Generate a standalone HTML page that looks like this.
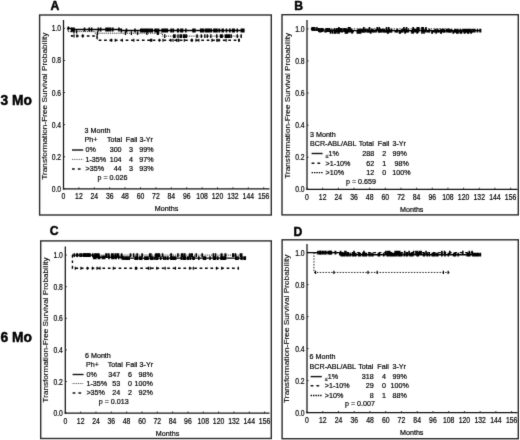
<!DOCTYPE html>
<html><head><meta charset="utf-8"><style>
html,body{margin:0;padding:0;background:#fff;width:520px;height:440px;overflow:hidden}
svg{display:block}
text{font-family:"Liberation Sans", sans-serif;fill:#000;stroke:#000;stroke-width:0.2px}
text.tt{stroke-width:0.12px}
text.bd{stroke-width:0.45px}
</style></head><body>
<svg width="520" height="440" viewBox="0 0 520 440"><defs><filter id="bl" color-interpolation-filters="sRGB" x="0" y="0" width="520" height="440" filterUnits="userSpaceOnUse"><feConvolveMatrix order="3" kernelMatrix="0.0100 0.0800 0.0100 0.0800 0.6400 0.0800 0.0100 0.0800 0.0100" edgeMode="duplicate" preserveAlpha="true"/></filter></defs><g filter="url(#bl)"><rect width="520" height="440" fill="#fff"/>
<text x="0.6" y="104.6" font-size="13.8" font-weight="bold" class="bd">3 Mo</text>
<text x="0.6" y="341.6" font-size="13.8" font-weight="bold" class="bd">6 Mo</text>
<rect x="39.6" y="15.0" width="231.70" height="200.00" fill="none" stroke="#2a2a2a" stroke-width="1.4"/>
<text x="50.60" y="10.20" font-size="12.2" text-anchor="start" font-weight="bold" class="bd">A</text>
<line x1="63.50" y1="20.00" x2="63.50" y2="189.40" stroke="#111" stroke-width="1.25" />
<line x1="62.90" y1="188.80" x2="269.50" y2="188.80" stroke="#111" stroke-width="1.25" />
<text transform="translate(61.10,191.80) scale(0.83,1)" font-size="8.2" text-anchor="end" >0.0</text>
<line x1="63.50" y1="188.80" x2="65.10" y2="188.80" stroke="#222" stroke-width="0.9" />
<text transform="translate(61.10,159.72) scale(0.83,1)" font-size="8.2" text-anchor="end" >0.2</text>
<line x1="63.50" y1="156.72" x2="65.10" y2="156.72" stroke="#222" stroke-width="0.9" />
<text transform="translate(61.10,127.64) scale(0.83,1)" font-size="8.2" text-anchor="end" >0.4</text>
<line x1="63.50" y1="124.64" x2="65.10" y2="124.64" stroke="#222" stroke-width="0.9" />
<text transform="translate(61.10,95.56) scale(0.83,1)" font-size="8.2" text-anchor="end" >0.6</text>
<line x1="63.50" y1="92.56" x2="65.10" y2="92.56" stroke="#222" stroke-width="0.9" />
<text transform="translate(61.10,63.48) scale(0.83,1)" font-size="8.2" text-anchor="end" >0.8</text>
<line x1="63.50" y1="60.48" x2="65.10" y2="60.48" stroke="#222" stroke-width="0.9" />
<text transform="translate(61.10,31.40) scale(0.83,1)" font-size="8.2" text-anchor="end" >1.0</text>
<line x1="63.50" y1="28.40" x2="65.10" y2="28.40" stroke="#222" stroke-width="0.9" />
<text transform="translate(63.50,199.30) scale(0.84,1)" font-size="8.2" text-anchor="middle" >0</text>
<line x1="63.50" y1="188.80" x2="63.50" y2="187.20" stroke="#222" stroke-width="0.9" />
<text transform="translate(78.90,199.30) scale(0.84,1)" font-size="8.2" text-anchor="middle" >12</text>
<line x1="78.90" y1="188.80" x2="78.90" y2="187.20" stroke="#222" stroke-width="0.9" />
<text transform="translate(94.30,199.30) scale(0.84,1)" font-size="8.2" text-anchor="middle" >24</text>
<line x1="94.30" y1="188.80" x2="94.30" y2="187.20" stroke="#222" stroke-width="0.9" />
<text transform="translate(109.70,199.30) scale(0.84,1)" font-size="8.2" text-anchor="middle" >36</text>
<line x1="109.70" y1="188.80" x2="109.70" y2="187.20" stroke="#222" stroke-width="0.9" />
<text transform="translate(125.10,199.30) scale(0.84,1)" font-size="8.2" text-anchor="middle" >48</text>
<line x1="125.10" y1="188.80" x2="125.10" y2="187.20" stroke="#222" stroke-width="0.9" />
<text transform="translate(140.50,199.30) scale(0.84,1)" font-size="8.2" text-anchor="middle" >60</text>
<line x1="140.50" y1="188.80" x2="140.50" y2="187.20" stroke="#222" stroke-width="0.9" />
<text transform="translate(155.90,199.30) scale(0.84,1)" font-size="8.2" text-anchor="middle" >72</text>
<line x1="155.90" y1="188.80" x2="155.90" y2="187.20" stroke="#222" stroke-width="0.9" />
<text transform="translate(171.30,199.30) scale(0.84,1)" font-size="8.2" text-anchor="middle" >84</text>
<line x1="171.30" y1="188.80" x2="171.30" y2="187.20" stroke="#222" stroke-width="0.9" />
<text transform="translate(186.70,199.30) scale(0.84,1)" font-size="8.2" text-anchor="middle" >96</text>
<line x1="186.70" y1="188.80" x2="186.70" y2="187.20" stroke="#222" stroke-width="0.9" />
<text transform="translate(202.10,199.30) scale(0.84,1)" font-size="8.2" text-anchor="middle" >108</text>
<line x1="202.10" y1="188.80" x2="202.10" y2="187.20" stroke="#222" stroke-width="0.9" />
<text transform="translate(217.50,199.30) scale(0.84,1)" font-size="8.2" text-anchor="middle" >120</text>
<line x1="217.50" y1="188.80" x2="217.50" y2="187.20" stroke="#222" stroke-width="0.9" />
<text transform="translate(232.90,199.30) scale(0.84,1)" font-size="8.2" text-anchor="middle" >132</text>
<line x1="232.90" y1="188.80" x2="232.90" y2="187.20" stroke="#222" stroke-width="0.9" />
<text transform="translate(248.30,199.30) scale(0.84,1)" font-size="8.2" text-anchor="middle" >144</text>
<line x1="248.30" y1="188.80" x2="248.30" y2="187.20" stroke="#222" stroke-width="0.9" />
<text transform="translate(263.70,199.30) scale(0.84,1)" font-size="8.2" text-anchor="middle" >156</text>
<line x1="263.70" y1="188.80" x2="263.70" y2="187.20" stroke="#222" stroke-width="0.9" />
<text transform="translate(154.80,211.45) scale(0.93,1)" font-size="7.7" text-anchor="start" >Months</text>
<text font-size="7.5" class="tt" transform="translate(46.60,179.70) rotate(-90) scale(1.1,1)">Transformation-Free Survival Probability</text>
<rect x="282.0" y="14.7" width="236.30" height="200.20" fill="none" stroke="#2a2a2a" stroke-width="1.4"/>
<text x="294.20" y="10.00" font-size="12.2" text-anchor="start" font-weight="bold" class="bd">B</text>
<line x1="307.00" y1="20.00" x2="307.00" y2="189.90" stroke="#111" stroke-width="1.25" />
<line x1="306.40" y1="189.30" x2="517.50" y2="189.30" stroke="#111" stroke-width="1.25" />
<text transform="translate(304.60,192.30) scale(0.83,1)" font-size="8.2" text-anchor="end" >0.0</text>
<line x1="307.00" y1="189.30" x2="308.60" y2="189.30" stroke="#222" stroke-width="0.9" />
<text transform="translate(304.60,160.22) scale(0.83,1)" font-size="8.2" text-anchor="end" >0.2</text>
<line x1="307.00" y1="157.22" x2="308.60" y2="157.22" stroke="#222" stroke-width="0.9" />
<text transform="translate(304.60,128.14) scale(0.83,1)" font-size="8.2" text-anchor="end" >0.4</text>
<line x1="307.00" y1="125.14" x2="308.60" y2="125.14" stroke="#222" stroke-width="0.9" />
<text transform="translate(304.60,96.06) scale(0.83,1)" font-size="8.2" text-anchor="end" >0.6</text>
<line x1="307.00" y1="93.06" x2="308.60" y2="93.06" stroke="#222" stroke-width="0.9" />
<text transform="translate(304.60,63.98) scale(0.83,1)" font-size="8.2" text-anchor="end" >0.8</text>
<line x1="307.00" y1="60.98" x2="308.60" y2="60.98" stroke="#222" stroke-width="0.9" />
<text transform="translate(304.60,31.90) scale(0.83,1)" font-size="8.2" text-anchor="end" >1.0</text>
<line x1="307.00" y1="28.90" x2="308.60" y2="28.90" stroke="#222" stroke-width="0.9" />
<text transform="translate(307.00,199.80) scale(0.84,1)" font-size="8.2" text-anchor="middle" >0</text>
<line x1="307.00" y1="189.30" x2="307.00" y2="187.70" stroke="#222" stroke-width="0.9" />
<text transform="translate(322.66,199.80) scale(0.84,1)" font-size="8.2" text-anchor="middle" >12</text>
<line x1="322.66" y1="189.30" x2="322.66" y2="187.70" stroke="#222" stroke-width="0.9" />
<text transform="translate(338.32,199.80) scale(0.84,1)" font-size="8.2" text-anchor="middle" >24</text>
<line x1="338.32" y1="189.30" x2="338.32" y2="187.70" stroke="#222" stroke-width="0.9" />
<text transform="translate(353.98,199.80) scale(0.84,1)" font-size="8.2" text-anchor="middle" >36</text>
<line x1="353.98" y1="189.30" x2="353.98" y2="187.70" stroke="#222" stroke-width="0.9" />
<text transform="translate(369.64,199.80) scale(0.84,1)" font-size="8.2" text-anchor="middle" >48</text>
<line x1="369.64" y1="189.30" x2="369.64" y2="187.70" stroke="#222" stroke-width="0.9" />
<text transform="translate(385.30,199.80) scale(0.84,1)" font-size="8.2" text-anchor="middle" >60</text>
<line x1="385.30" y1="189.30" x2="385.30" y2="187.70" stroke="#222" stroke-width="0.9" />
<text transform="translate(400.96,199.80) scale(0.84,1)" font-size="8.2" text-anchor="middle" >72</text>
<line x1="400.96" y1="189.30" x2="400.96" y2="187.70" stroke="#222" stroke-width="0.9" />
<text transform="translate(416.62,199.80) scale(0.84,1)" font-size="8.2" text-anchor="middle" >84</text>
<line x1="416.62" y1="189.30" x2="416.62" y2="187.70" stroke="#222" stroke-width="0.9" />
<text transform="translate(432.28,199.80) scale(0.84,1)" font-size="8.2" text-anchor="middle" >96</text>
<line x1="432.28" y1="189.30" x2="432.28" y2="187.70" stroke="#222" stroke-width="0.9" />
<text transform="translate(447.94,199.80) scale(0.84,1)" font-size="8.2" text-anchor="middle" >108</text>
<line x1="447.94" y1="189.30" x2="447.94" y2="187.70" stroke="#222" stroke-width="0.9" />
<text transform="translate(463.60,199.80) scale(0.84,1)" font-size="8.2" text-anchor="middle" >120</text>
<line x1="463.60" y1="189.30" x2="463.60" y2="187.70" stroke="#222" stroke-width="0.9" />
<text transform="translate(479.26,199.80) scale(0.84,1)" font-size="8.2" text-anchor="middle" >132</text>
<line x1="479.26" y1="189.30" x2="479.26" y2="187.70" stroke="#222" stroke-width="0.9" />
<text transform="translate(494.92,199.80) scale(0.84,1)" font-size="8.2" text-anchor="middle" >144</text>
<line x1="494.92" y1="189.30" x2="494.92" y2="187.70" stroke="#222" stroke-width="0.9" />
<text transform="translate(510.58,199.80) scale(0.84,1)" font-size="8.2" text-anchor="middle" >156</text>
<line x1="510.58" y1="189.30" x2="510.58" y2="187.70" stroke="#222" stroke-width="0.9" />
<text transform="translate(400.00,211.95) scale(0.93,1)" font-size="7.7" text-anchor="start" >Months</text>
<text font-size="7.5" class="tt" transform="translate(289.60,178.60) rotate(-90) scale(1.09,1)">Transformation-Free Survival Probability</text>
<rect x="40.7" y="240.9" width="230.60" height="197.60" fill="none" stroke="#2a2a2a" stroke-width="1.4"/>
<text x="49.80" y="235.30" font-size="12.2" text-anchor="start" font-weight="bold" class="bd">C</text>
<line x1="65.30" y1="246.50" x2="65.30" y2="413.70" stroke="#111" stroke-width="1.25" />
<line x1="64.70" y1="413.10" x2="269.50" y2="413.10" stroke="#111" stroke-width="1.25" />
<text transform="translate(62.90,416.10) scale(0.83,1)" font-size="8.2" text-anchor="end" >0.0</text>
<line x1="65.30" y1="413.10" x2="66.90" y2="413.10" stroke="#222" stroke-width="0.9" />
<text transform="translate(62.90,384.50) scale(0.83,1)" font-size="8.2" text-anchor="end" >0.2</text>
<line x1="65.30" y1="381.50" x2="66.90" y2="381.50" stroke="#222" stroke-width="0.9" />
<text transform="translate(62.90,352.90) scale(0.83,1)" font-size="8.2" text-anchor="end" >0.4</text>
<line x1="65.30" y1="349.90" x2="66.90" y2="349.90" stroke="#222" stroke-width="0.9" />
<text transform="translate(62.90,321.30) scale(0.83,1)" font-size="8.2" text-anchor="end" >0.6</text>
<line x1="65.30" y1="318.30" x2="66.90" y2="318.30" stroke="#222" stroke-width="0.9" />
<text transform="translate(62.90,289.70) scale(0.83,1)" font-size="8.2" text-anchor="end" >0.8</text>
<line x1="65.30" y1="286.70" x2="66.90" y2="286.70" stroke="#222" stroke-width="0.9" />
<text transform="translate(62.90,258.10) scale(0.83,1)" font-size="8.2" text-anchor="end" >1.0</text>
<line x1="65.30" y1="255.10" x2="66.90" y2="255.10" stroke="#222" stroke-width="0.9" />
<text transform="translate(65.30,423.60) scale(0.84,1)" font-size="8.2" text-anchor="middle" >0</text>
<line x1="65.30" y1="413.10" x2="65.30" y2="411.50" stroke="#222" stroke-width="0.9" />
<text transform="translate(80.63,423.60) scale(0.84,1)" font-size="8.2" text-anchor="middle" >12</text>
<line x1="80.63" y1="413.10" x2="80.63" y2="411.50" stroke="#222" stroke-width="0.9" />
<text transform="translate(95.96,423.60) scale(0.84,1)" font-size="8.2" text-anchor="middle" >24</text>
<line x1="95.96" y1="413.10" x2="95.96" y2="411.50" stroke="#222" stroke-width="0.9" />
<text transform="translate(111.29,423.60) scale(0.84,1)" font-size="8.2" text-anchor="middle" >36</text>
<line x1="111.29" y1="413.10" x2="111.29" y2="411.50" stroke="#222" stroke-width="0.9" />
<text transform="translate(126.62,423.60) scale(0.84,1)" font-size="8.2" text-anchor="middle" >48</text>
<line x1="126.62" y1="413.10" x2="126.62" y2="411.50" stroke="#222" stroke-width="0.9" />
<text transform="translate(141.95,423.60) scale(0.84,1)" font-size="8.2" text-anchor="middle" >60</text>
<line x1="141.95" y1="413.10" x2="141.95" y2="411.50" stroke="#222" stroke-width="0.9" />
<text transform="translate(157.28,423.60) scale(0.84,1)" font-size="8.2" text-anchor="middle" >72</text>
<line x1="157.28" y1="413.10" x2="157.28" y2="411.50" stroke="#222" stroke-width="0.9" />
<text transform="translate(172.61,423.60) scale(0.84,1)" font-size="8.2" text-anchor="middle" >84</text>
<line x1="172.61" y1="413.10" x2="172.61" y2="411.50" stroke="#222" stroke-width="0.9" />
<text transform="translate(187.94,423.60) scale(0.84,1)" font-size="8.2" text-anchor="middle" >96</text>
<line x1="187.94" y1="413.10" x2="187.94" y2="411.50" stroke="#222" stroke-width="0.9" />
<text transform="translate(203.27,423.60) scale(0.84,1)" font-size="8.2" text-anchor="middle" >108</text>
<line x1="203.27" y1="413.10" x2="203.27" y2="411.50" stroke="#222" stroke-width="0.9" />
<text transform="translate(218.60,423.60) scale(0.84,1)" font-size="8.2" text-anchor="middle" >120</text>
<line x1="218.60" y1="413.10" x2="218.60" y2="411.50" stroke="#222" stroke-width="0.9" />
<text transform="translate(233.93,423.60) scale(0.84,1)" font-size="8.2" text-anchor="middle" >132</text>
<line x1="233.93" y1="413.10" x2="233.93" y2="411.50" stroke="#222" stroke-width="0.9" />
<text transform="translate(249.26,423.60) scale(0.84,1)" font-size="8.2" text-anchor="middle" >144</text>
<line x1="249.26" y1="413.10" x2="249.26" y2="411.50" stroke="#222" stroke-width="0.9" />
<text transform="translate(264.59,423.60) scale(0.84,1)" font-size="8.2" text-anchor="middle" >156</text>
<line x1="264.59" y1="413.10" x2="264.59" y2="411.50" stroke="#222" stroke-width="0.9" />
<text transform="translate(155.80,435.75) scale(0.93,1)" font-size="7.7" text-anchor="start" >Months</text>
<text font-size="7.5" class="tt" transform="translate(48.40,402.40) rotate(-90) scale(1.085,1)">Transformation-Free Survival Probability</text>
<rect x="282.1" y="239.8" width="236.20" height="198.90" fill="none" stroke="#2a2a2a" stroke-width="1.4"/>
<text x="293.60" y="235.60" font-size="12.2" text-anchor="start" font-weight="bold" class="bd">D</text>
<line x1="307.00" y1="244.00" x2="307.00" y2="413.20" stroke="#111" stroke-width="1.25" />
<line x1="306.40" y1="412.60" x2="517.50" y2="412.60" stroke="#111" stroke-width="1.25" />
<text transform="translate(304.60,415.60) scale(0.83,1)" font-size="8.2" text-anchor="end" >0.0</text>
<line x1="307.00" y1="412.60" x2="308.60" y2="412.60" stroke="#222" stroke-width="0.9" />
<text transform="translate(304.60,383.60) scale(0.83,1)" font-size="8.2" text-anchor="end" >0.2</text>
<line x1="307.00" y1="380.60" x2="308.60" y2="380.60" stroke="#222" stroke-width="0.9" />
<text transform="translate(304.60,351.60) scale(0.83,1)" font-size="8.2" text-anchor="end" >0.4</text>
<line x1="307.00" y1="348.60" x2="308.60" y2="348.60" stroke="#222" stroke-width="0.9" />
<text transform="translate(304.60,319.60) scale(0.83,1)" font-size="8.2" text-anchor="end" >0.6</text>
<line x1="307.00" y1="316.60" x2="308.60" y2="316.60" stroke="#222" stroke-width="0.9" />
<text transform="translate(304.60,287.60) scale(0.83,1)" font-size="8.2" text-anchor="end" >0.8</text>
<line x1="307.00" y1="284.60" x2="308.60" y2="284.60" stroke="#222" stroke-width="0.9" />
<text transform="translate(304.60,255.60) scale(0.83,1)" font-size="8.2" text-anchor="end" >1.0</text>
<line x1="307.00" y1="252.60" x2="308.60" y2="252.60" stroke="#222" stroke-width="0.9" />
<text transform="translate(307.00,423.10) scale(0.84,1)" font-size="8.2" text-anchor="middle" >0</text>
<line x1="307.00" y1="412.60" x2="307.00" y2="411.00" stroke="#222" stroke-width="0.9" />
<text transform="translate(322.74,423.10) scale(0.84,1)" font-size="8.2" text-anchor="middle" >12</text>
<line x1="322.74" y1="412.60" x2="322.74" y2="411.00" stroke="#222" stroke-width="0.9" />
<text transform="translate(338.48,423.10) scale(0.84,1)" font-size="8.2" text-anchor="middle" >24</text>
<line x1="338.48" y1="412.60" x2="338.48" y2="411.00" stroke="#222" stroke-width="0.9" />
<text transform="translate(354.22,423.10) scale(0.84,1)" font-size="8.2" text-anchor="middle" >36</text>
<line x1="354.22" y1="412.60" x2="354.22" y2="411.00" stroke="#222" stroke-width="0.9" />
<text transform="translate(369.96,423.10) scale(0.84,1)" font-size="8.2" text-anchor="middle" >48</text>
<line x1="369.96" y1="412.60" x2="369.96" y2="411.00" stroke="#222" stroke-width="0.9" />
<text transform="translate(385.70,423.10) scale(0.84,1)" font-size="8.2" text-anchor="middle" >60</text>
<line x1="385.70" y1="412.60" x2="385.70" y2="411.00" stroke="#222" stroke-width="0.9" />
<text transform="translate(401.44,423.10) scale(0.84,1)" font-size="8.2" text-anchor="middle" >72</text>
<line x1="401.44" y1="412.60" x2="401.44" y2="411.00" stroke="#222" stroke-width="0.9" />
<text transform="translate(417.18,423.10) scale(0.84,1)" font-size="8.2" text-anchor="middle" >84</text>
<line x1="417.18" y1="412.60" x2="417.18" y2="411.00" stroke="#222" stroke-width="0.9" />
<text transform="translate(432.92,423.10) scale(0.84,1)" font-size="8.2" text-anchor="middle" >96</text>
<line x1="432.92" y1="412.60" x2="432.92" y2="411.00" stroke="#222" stroke-width="0.9" />
<text transform="translate(448.66,423.10) scale(0.84,1)" font-size="8.2" text-anchor="middle" >108</text>
<line x1="448.66" y1="412.60" x2="448.66" y2="411.00" stroke="#222" stroke-width="0.9" />
<text transform="translate(464.40,423.10) scale(0.84,1)" font-size="8.2" text-anchor="middle" >120</text>
<line x1="464.40" y1="412.60" x2="464.40" y2="411.00" stroke="#222" stroke-width="0.9" />
<text transform="translate(480.14,423.10) scale(0.84,1)" font-size="8.2" text-anchor="middle" >132</text>
<line x1="480.14" y1="412.60" x2="480.14" y2="411.00" stroke="#222" stroke-width="0.9" />
<text transform="translate(495.88,423.10) scale(0.84,1)" font-size="8.2" text-anchor="middle" >144</text>
<line x1="495.88" y1="412.60" x2="495.88" y2="411.00" stroke="#222" stroke-width="0.9" />
<text transform="translate(511.62,423.10) scale(0.84,1)" font-size="8.2" text-anchor="middle" >156</text>
<line x1="511.62" y1="412.60" x2="511.62" y2="411.00" stroke="#222" stroke-width="0.9" />
<text transform="translate(400.00,435.25) scale(0.93,1)" font-size="7.7" text-anchor="start" >Months</text>
<text font-size="7.5" class="tt" transform="translate(289.10,402.90) rotate(-90) scale(1.11,1)">Transformation-Free Survival Probability</text>
<text transform="translate(84.60,133.15) scale(0.93,1)" font-size="7.7" text-anchor="start" >3 Month</text>
<text transform="translate(84.60,142.45) scale(0.93,1)" font-size="7.7" text-anchor="start" >Ph+</text>
<text transform="translate(107.00,142.45) scale(0.93,1)" font-size="7.7" text-anchor="start" >Total</text>
<text transform="translate(125.80,142.45) scale(0.93,1)" font-size="7.7" text-anchor="start" >Fail</text>
<text transform="translate(139.40,142.45) scale(0.93,1)" font-size="7.7" text-anchor="start" >3-Yr</text>
<line x1="72.00" y1="150.00" x2="83.20" y2="150.00" stroke="#111" stroke-width="1.4" />
<text transform="translate(85.50,151.95) scale(0.93,1)" font-size="7.7" text-anchor="start" >0%</text>
<text transform="translate(121.60,151.95) scale(0.93,1)" font-size="7.7" text-anchor="end" >300</text>
<text transform="translate(132.90,151.95) scale(0.93,1)" font-size="7.7" text-anchor="end" >3</text>
<text transform="translate(139.20,151.95) scale(0.93,1)" font-size="7.7" text-anchor="start" >99%</text>
<line x1="72.00" y1="159.40" x2="83.20" y2="159.40" stroke="#444" stroke-width="0.9" stroke-dasharray="1.0 0.8"/>
<text transform="translate(85.50,161.65) scale(0.93,1)" font-size="7.7" text-anchor="start" >1-35%</text>
<text transform="translate(121.60,161.65) scale(0.93,1)" font-size="7.7" text-anchor="end" >104</text>
<text transform="translate(132.90,161.65) scale(0.93,1)" font-size="7.7" text-anchor="end" >4</text>
<text transform="translate(139.20,161.65) scale(0.93,1)" font-size="7.7" text-anchor="start" >97%</text>
<line x1="72.00" y1="169.10" x2="83.20" y2="169.10" stroke="#111" stroke-width="1.5" stroke-dasharray="2.8 3"/>
<text transform="translate(85.50,171.25) scale(0.93,1)" font-size="7.7" text-anchor="start" >&gt;35%</text>
<text transform="translate(121.60,171.25) scale(0.93,1)" font-size="7.7" text-anchor="end" >44</text>
<text transform="translate(132.90,171.25) scale(0.93,1)" font-size="7.7" text-anchor="end" >3</text>
<text transform="translate(139.20,171.25) scale(0.93,1)" font-size="7.7" text-anchor="start" >93%</text>
<text transform="translate(97.50,179.65) scale(0.93,1)" font-size="7.7" text-anchor="start" >p = 0.026</text>
<text transform="translate(85.00,357.65) scale(0.93,1)" font-size="7.7" text-anchor="start" >6 Month</text>
<text transform="translate(86.00,367.25) scale(0.93,1)" font-size="7.7" text-anchor="start" >Ph+</text>
<text transform="translate(107.80,367.25) scale(0.93,1)" font-size="7.7" text-anchor="start" >Total</text>
<text transform="translate(125.80,367.25) scale(0.93,1)" font-size="7.7" text-anchor="start" >Fail</text>
<text transform="translate(139.60,367.25) scale(0.93,1)" font-size="7.7" text-anchor="start" >3-Yr</text>
<line x1="72.60" y1="374.50" x2="83.60" y2="374.50" stroke="#111" stroke-width="1.4" />
<text transform="translate(86.40,376.75) scale(0.93,1)" font-size="7.7" text-anchor="start" >0%</text>
<text transform="translate(120.20,376.75) scale(0.93,1)" font-size="7.7" text-anchor="end" >347</text>
<text transform="translate(131.90,376.75) scale(0.93,1)" font-size="7.7" text-anchor="end" >6</text>
<text transform="translate(152.90,376.75) scale(0.93,1)" font-size="7.7" text-anchor="end" >98%</text>
<line x1="72.60" y1="383.50" x2="83.60" y2="383.50" stroke="#444" stroke-width="0.9" stroke-dasharray="1.0 0.8"/>
<text transform="translate(86.40,386.25) scale(0.93,1)" font-size="7.7" text-anchor="start" >1-35%</text>
<text transform="translate(120.20,386.25) scale(0.93,1)" font-size="7.7" text-anchor="end" >53</text>
<text transform="translate(131.90,386.25) scale(0.93,1)" font-size="7.7" text-anchor="end" >0</text>
<text transform="translate(152.90,386.25) scale(0.93,1)" font-size="7.7" text-anchor="end" >100%</text>
<line x1="72.60" y1="393.10" x2="83.60" y2="393.10" stroke="#111" stroke-width="1.5" stroke-dasharray="2.8 3"/>
<text transform="translate(86.40,395.25) scale(0.93,1)" font-size="7.7" text-anchor="start" >&gt;35%</text>
<text transform="translate(120.20,395.25) scale(0.93,1)" font-size="7.7" text-anchor="end" >24</text>
<text transform="translate(131.90,395.25) scale(0.93,1)" font-size="7.7" text-anchor="end" >2</text>
<text transform="translate(152.90,395.25) scale(0.93,1)" font-size="7.7" text-anchor="end" >92%</text>
<text transform="translate(98.70,403.65) scale(0.93,1)" font-size="7.7" text-anchor="start" >p = 0.013</text>
<text transform="translate(310.00,137.05) scale(0.93,1)" font-size="7.7" text-anchor="start" >3 Month</text>
<text transform="translate(310.00,146.15) scale(0.93,1)" font-size="7.7" text-anchor="start" >BCR-ABL/ABL</text>
<text transform="translate(358.70,146.15) scale(0.93,1)" font-size="7.7" text-anchor="start" >Total</text>
<text transform="translate(377.80,146.15) scale(0.93,1)" font-size="7.7" text-anchor="start" >Fail</text>
<text transform="translate(392.50,146.15) scale(0.93,1)" font-size="7.7" text-anchor="start" >3-Yr</text>
<line x1="311.60" y1="153.50" x2="322.60" y2="153.50" stroke="#111" stroke-width="1.4" />
<text transform="translate(325.60,156.05) scale(0.93,1)" font-size="7.7" text-anchor="start" ><tspan font-size="5.6" dy="1.7">&#8804;</tspan><tspan dy="-1.7">1%</tspan></text>
<text transform="translate(374.20,156.05) scale(0.93,1)" font-size="7.7" text-anchor="end" >288</text>
<text transform="translate(386.20,156.05) scale(0.93,1)" font-size="7.7" text-anchor="end" >2</text>
<text transform="translate(392.60,156.05) scale(0.93,1)" font-size="7.7" text-anchor="start" >99%</text>
<line x1="311.60" y1="163.20" x2="322.60" y2="163.20" stroke="#111" stroke-width="1.5" stroke-dasharray="2.8 3"/>
<text transform="translate(325.60,165.75) scale(0.93,1)" font-size="7.7" text-anchor="start" >&gt;1-10%</text>
<text transform="translate(374.20,165.75) scale(0.93,1)" font-size="7.7" text-anchor="end" >62</text>
<text transform="translate(386.20,165.75) scale(0.93,1)" font-size="7.7" text-anchor="end" >1</text>
<text transform="translate(394.60,165.75) scale(0.93,1)" font-size="7.7" text-anchor="start" >98%</text>
<line x1="311.60" y1="172.60" x2="322.60" y2="172.60" stroke="#000" stroke-width="1.3" stroke-dasharray="1.4 1.0"/>
<text transform="translate(325.60,175.15) scale(0.93,1)" font-size="7.7" text-anchor="start" >&gt;10%</text>
<text transform="translate(374.20,175.15) scale(0.93,1)" font-size="7.7" text-anchor="end" >12</text>
<text transform="translate(386.20,175.15) scale(0.93,1)" font-size="7.7" text-anchor="end" >0</text>
<text transform="translate(392.20,175.15) scale(0.93,1)" font-size="7.7" text-anchor="start" >100%</text>
<text transform="translate(346.00,183.65) scale(0.93,1)" font-size="7.7" text-anchor="start" >p = 0.659</text>
<text transform="translate(309.60,359.25) scale(0.93,1)" font-size="7.7" text-anchor="start" >6 Month</text>
<text transform="translate(309.60,369.35) scale(0.93,1)" font-size="7.7" text-anchor="start" >BCR-ABL/ABL</text>
<text transform="translate(358.30,369.35) scale(0.93,1)" font-size="7.7" text-anchor="start" >Total</text>
<text transform="translate(377.30,369.35) scale(0.93,1)" font-size="7.7" text-anchor="start" >Fail</text>
<text transform="translate(392.50,369.35) scale(0.93,1)" font-size="7.7" text-anchor="start" >3-Yr</text>
<line x1="310.60" y1="376.60" x2="321.80" y2="376.60" stroke="#111" stroke-width="1.4" />
<text transform="translate(324.80,378.85) scale(0.93,1)" font-size="7.7" text-anchor="start" ><tspan font-size="5.6" dy="1.7">&#8804;</tspan><tspan dy="-1.7">1%</tspan></text>
<text transform="translate(373.80,378.85) scale(0.93,1)" font-size="7.7" text-anchor="end" >318</text>
<text transform="translate(386.00,378.85) scale(0.93,1)" font-size="7.7" text-anchor="end" >4</text>
<text transform="translate(392.60,378.85) scale(0.93,1)" font-size="7.7" text-anchor="start" >99%</text>
<line x1="310.60" y1="385.80" x2="321.80" y2="385.80" stroke="#111" stroke-width="1.5" stroke-dasharray="2.8 3"/>
<text transform="translate(324.80,388.45) scale(0.93,1)" font-size="7.7" text-anchor="start" >&gt;1-10%</text>
<text transform="translate(373.80,388.45) scale(0.93,1)" font-size="7.7" text-anchor="end" >29</text>
<text transform="translate(386.00,388.45) scale(0.93,1)" font-size="7.7" text-anchor="end" >0</text>
<text transform="translate(390.50,388.45) scale(0.93,1)" font-size="7.7" text-anchor="start" >100%</text>
<line x1="310.60" y1="395.50" x2="321.80" y2="395.50" stroke="#000" stroke-width="1.3" stroke-dasharray="1.4 1.0"/>
<text transform="translate(324.80,397.95) scale(0.93,1)" font-size="7.7" text-anchor="start" >&gt;10%</text>
<text transform="translate(373.80,397.95) scale(0.93,1)" font-size="7.7" text-anchor="end" >8</text>
<text transform="translate(386.00,397.95) scale(0.93,1)" font-size="7.7" text-anchor="end" >1</text>
<text transform="translate(392.60,397.95) scale(0.93,1)" font-size="7.7" text-anchor="start" >88%</text>
<text transform="translate(345.00,405.65) scale(0.93,1)" font-size="7.7" text-anchor="start" >p = 0.007</text>
<path d="M67.35,28.40H71.20V29.52H121.25V30.49H243.81" fill="none" stroke="#000" stroke-width="1.4"/>
<path d="M68.36,26.50v3.80M71.77,27.62v3.80M72.47,27.62v3.80M72.98,27.62v3.80M73.10,27.62v3.80M73.37,27.62v3.80M74.06,27.62v3.80M84.49,27.62v3.80M89.25,27.62v3.80M91.62,27.62v3.80M98.41,27.62v3.80M100.68,27.62v3.80M106.07,27.62v3.80M106.46,27.62v3.80M106.97,27.62v3.80M108.21,27.62v3.80M108.58,27.62v3.80M108.97,27.62v3.80M110.67,27.62v3.80M112.84,27.62v3.80M118.94,27.62v3.80M121.33,28.59v3.80M126.49,28.59v3.80M135.01,28.59v3.80M140.83,28.59v3.80M142.21,28.59v3.80M142.21,28.59v3.80M144.08,28.59v3.80M144.98,28.59v3.80M146.30,28.59v3.80M147.02,28.59v3.80M148.80,28.59v3.80M155.10,28.59v3.80M155.16,28.59v3.80M156.83,28.59v3.80M163.18,28.59v3.80M164.48,28.59v3.80M165.83,28.59v3.80M171.30,28.59v3.80M171.55,28.59v3.80M180.92,28.59v3.80M182.55,28.59v3.80M185.84,28.59v3.80M193.03,28.59v3.80M194.84,28.59v3.80M194.85,28.59v3.80M202.01,28.59v3.80M202.28,28.59v3.80M206.66,28.59v3.80M208.19,28.59v3.80M213.93,28.59v3.80M214.93,28.59v3.80M215.25,28.59v3.80M216.77,28.59v3.80M216.98,28.59v3.80M219.18,28.59v3.80M223.15,28.59v3.80M226.48,28.59v3.80M232.63,28.59v3.80M233.11,28.59v3.80M234.19,28.59v3.80M242.50,28.59v3.80M143.21,28.59v3.80M145.81,28.59v3.80M147.07,28.59v3.80M147.58,28.59v3.80M150.51,28.59v3.80M152.18,28.59v3.80M156.51,28.59v3.80M158.58,28.59v3.80M162.15,28.59v3.80M162.66,28.59v3.80M163.83,28.59v3.80M167.33,28.59v3.80M171.07,28.59v3.80M173.37,28.59v3.80M177.61,28.59v3.80M178.38,28.59v3.80M182.21,28.59v3.80M194.58,28.59v3.80M200.74,28.59v3.80M203.39,28.59v3.80M205.59,28.59v3.80M205.63,28.59v3.80M206.33,28.59v3.80M206.94,28.59v3.80M209.16,28.59v3.80M209.45,28.59v3.80M211.17,28.59v3.80M214.63,28.59v3.80M219.40,28.59v3.80M222.33,28.59v3.80M229.83,28.59v3.80M233.00,28.59v3.80M237.26,28.59v3.80M241.39,28.59v3.80M242.76,28.59v3.80M243.81,28.59v3.80" fill="none" stroke="#000" stroke-width="1.6"/>
<path d="M67.35,28.40H67.99V31.61H94.94V33.21H162.44V36.10H241.24" fill="none" stroke="#222" stroke-width="1.0" stroke-dasharray="1.0 0.9"/>
<path d="M73.93,29.71v3.80M76.58,29.71v3.80M97.50,31.31v3.80M125.40,31.31v3.80M125.48,31.31v3.80M131.38,31.31v3.80M137.58,31.31v3.80M146.91,31.31v3.80M157.43,31.31v3.80M158.20,31.31v3.80M164.72,34.20v3.80M173.71,34.20v3.80M174.99,34.20v3.80M175.03,34.20v3.80M178.02,34.20v3.80M180.21,34.20v3.80M181.08,34.20v3.80M181.50,34.20v3.80M183.53,34.20v3.80M183.71,34.20v3.80M185.02,34.20v3.80M186.48,34.20v3.80M196.95,34.20v3.80M197.11,34.20v3.80M201.39,34.20v3.80M204.85,34.20v3.80M207.40,34.20v3.80M210.84,34.20v3.80M216.71,34.20v3.80M216.80,34.20v3.80M220.59,34.20v3.80M221.42,34.20v3.80M222.22,34.20v3.80M225.23,34.20v3.80M226.18,34.20v3.80M226.47,34.20v3.80M227.76,34.20v3.80M228.64,34.20v3.80M229.54,34.20v3.80M229.59,34.20v3.80M231.25,34.20v3.80M237.31,34.20v3.80M241.24,34.20v3.80" fill="none" stroke="#000" stroke-width="1.35"/>
<path d="M67.35,28.40H71.59V35.94H97.12V40.27H239.32" fill="none" stroke="#000" stroke-width="1.4" stroke-dasharray="2.7 2.7"/>
<path d="M74.05,34.34v3.20M77.04,34.34v3.20M82.57,34.34v3.20M82.82,34.34v3.20M97.07,34.34v3.20M111.09,38.67v3.20M111.69,38.67v3.20M115.28,38.67v3.20M122.30,38.67v3.20M133.80,38.67v3.20M150.60,38.67v3.20M151.02,38.67v3.20M151.62,38.67v3.20M159.46,38.67v3.20M162.99,38.67v3.20M170.84,38.67v3.20M172.98,38.67v3.20M176.63,38.67v3.20M178.16,38.67v3.20M178.87,38.67v3.20M184.29,38.67v3.20M191.44,38.67v3.20M192.23,38.67v3.20M195.98,38.67v3.20M198.83,38.67v3.20M211.93,38.67v3.20M212.10,38.67v3.20M216.80,38.67v3.20M217.22,38.67v3.20M219.02,38.67v3.20M226.10,38.67v3.20M238.59,38.67v3.20M239.32,38.67v3.20" fill="none" stroke="#000" stroke-width="1.2"/>
<path d="M310.92,28.90H314.83V30.02H346.15V30.66H480.56" fill="none" stroke="#000" stroke-width="1.4"/>
<path d="M313.16,27.00v3.80M314.64,27.00v3.80M318.80,28.12v3.80M318.87,28.12v3.80M319.14,28.12v3.80M319.40,28.12v3.80M320.91,28.12v3.80M321.60,28.12v3.80M321.98,28.12v3.80M322.81,28.12v3.80M326.22,28.12v3.80M326.67,28.12v3.80M327.98,28.12v3.80M328.63,28.12v3.80M329.00,28.12v3.80M329.51,28.12v3.80M334.63,28.12v3.80M336.86,28.12v3.80M337.76,28.12v3.80M338.83,28.12v3.80M340.07,28.12v3.80M340.22,28.12v3.80M340.75,28.12v3.80M341.57,28.12v3.80M341.61,28.12v3.80M343.92,28.12v3.80M344.26,28.12v3.80M344.62,28.12v3.80M345.82,28.12v3.80M346.70,28.76v3.80M347.80,28.76v3.80M349.07,28.76v3.80M350.25,28.76v3.80M351.46,28.76v3.80M351.69,28.76v3.80M358.26,28.76v3.80M358.33,28.76v3.80M358.96,28.76v3.80M360.41,28.76v3.80M360.63,28.76v3.80M361.15,28.76v3.80M362.31,28.76v3.80M363.13,28.76v3.80M363.93,28.76v3.80M365.76,28.76v3.80M367.52,28.76v3.80M367.56,28.76v3.80M369.51,28.76v3.80M371.70,28.76v3.80M372.87,28.76v3.80M376.06,28.76v3.80M378.50,28.76v3.80M379.44,28.76v3.80M380.93,28.76v3.80M381.33,28.76v3.80M381.52,28.76v3.80M383.21,28.76v3.80M384.41,28.76v3.80M386.63,28.76v3.80M389.14,28.76v3.80M391.21,28.76v3.80M391.60,28.76v3.80M397.07,28.76v3.80M397.48,28.76v3.80M401.92,28.76v3.80M402.27,28.76v3.80M404.12,28.76v3.80M405.96,28.76v3.80M408.30,28.76v3.80M412.78,28.76v3.80M413.95,28.76v3.80M415.57,28.76v3.80M416.43,28.76v3.80M417.42,28.76v3.80M417.52,28.76v3.80M418.49,28.76v3.80M425.08,28.76v3.80M425.95,28.76v3.80M429.41,28.76v3.80M435.26,28.76v3.80M435.76,28.76v3.80M437.80,28.76v3.80M440.88,28.76v3.80M440.88,28.76v3.80M442.58,28.76v3.80M444.02,28.76v3.80M446.84,28.76v3.80M446.84,28.76v3.80M447.89,28.76v3.80M448.89,28.76v3.80M449.80,28.76v3.80M451.65,28.76v3.80M454.88,28.76v3.80M456.00,28.76v3.80M457.83,28.76v3.80M460.29,28.76v3.80M460.68,28.76v3.80M462.98,28.76v3.80M464.39,28.76v3.80M465.16,28.76v3.80M466.70,28.76v3.80M468.31,28.76v3.80M469.51,28.76v3.80M470.98,28.76v3.80M472.92,28.76v3.80M473.78,28.76v3.80M474.11,28.76v3.80M474.82,28.76v3.80M477.48,28.76v3.80M480.11,28.76v3.80M480.56,28.76v3.80" fill="none" stroke="#000" stroke-width="1.6"/>
<path d="M310.92,28.90H317.44V31.79H474.04" fill="none" stroke="#000" stroke-width="1.4" stroke-dasharray="2.7 2.7"/>
<path d="M312.51,27.00v3.80M314.34,27.00v3.80M316.91,27.00v3.80M330.54,29.89v3.80M332.72,29.89v3.80M334.68,29.89v3.80M335.80,29.89v3.80M338.05,29.89v3.80M339.08,29.89v3.80M345.36,29.89v3.80M346.11,29.89v3.80M347.09,29.89v3.80M347.29,29.89v3.80M352.12,29.89v3.80M357.45,29.89v3.80M359.04,29.89v3.80M360.57,29.89v3.80M370.67,29.89v3.80M387.57,29.89v3.80M388.12,29.89v3.80M399.48,29.89v3.80M400.21,29.89v3.80M405.10,29.89v3.80M412.14,29.89v3.80M413.02,29.89v3.80M417.24,29.89v3.80M421.91,29.89v3.80M423.98,29.89v3.80M431.95,29.89v3.80M432.26,29.89v3.80M436.13,29.89v3.80M440.90,29.89v3.80M441.21,29.89v3.80M453.23,29.89v3.80M453.39,29.89v3.80M456.85,29.89v3.80M458.00,29.89v3.80M460.50,29.89v3.80M461.47,29.89v3.80M464.49,29.89v3.80M464.73,29.89v3.80M464.87,29.89v3.80M467.81,29.89v3.80M468.63,29.89v3.80M471.20,29.89v3.80" fill="none" stroke="#000" stroke-width="1.6"/>
<path d="M310.92,28.90H450.55" fill="none" stroke="#222" stroke-width="1.0" stroke-dasharray="1.5 1.35"/>
<path d="M312.28,27.00v3.80M338.92,27.00v3.80M348.41,27.00v3.80M349.94,27.00v3.80M363.84,27.00v3.80M369.49,27.00v3.80M377.27,27.00v3.80M379.31,27.00v3.80M386.68,27.00v3.80M388.80,27.00v3.80M403.91,27.00v3.80M406.57,27.00v3.80M413.18,27.00v3.80M417.31,27.00v3.80M418.75,27.00v3.80M421.96,27.00v3.80M423.15,27.00v3.80M425.92,27.00v3.80" fill="none" stroke="#000" stroke-width="1.6"/>
<path d="M72.33,255.10H93.41V257.31H122.79V258.10H245.30" fill="none" stroke="#000" stroke-width="1.4"/>
<path d="M74.31,253.20v3.80M77.48,253.20v3.80M80.04,253.20v3.80M80.34,253.20v3.80M81.60,253.20v3.80M83.56,253.20v3.80M83.73,253.20v3.80M83.84,253.20v3.80M84.02,253.20v3.80M84.38,253.20v3.80M85.60,253.20v3.80M86.04,253.20v3.80M87.44,253.20v3.80M89.18,253.20v3.80M93.71,255.41v3.80M93.83,255.41v3.80M93.88,255.41v3.80M94.86,255.41v3.80M95.81,255.41v3.80M98.37,255.41v3.80M99.50,255.41v3.80M99.52,255.41v3.80M99.70,255.41v3.80M102.46,255.41v3.80M103.86,255.41v3.80M104.63,255.41v3.80M108.97,255.41v3.80M111.93,255.41v3.80M113.43,255.41v3.80M113.67,255.41v3.80M115.51,255.41v3.80M116.12,255.41v3.80M118.72,255.41v3.80M121.41,255.41v3.80M122.47,255.41v3.80M123.04,256.20v3.80M123.33,256.20v3.80M125.07,256.20v3.80M126.57,256.20v3.80M127.47,256.20v3.80M127.54,256.20v3.80M129.20,256.20v3.80M135.20,256.20v3.80M136.39,256.20v3.80M137.00,256.20v3.80M137.54,256.20v3.80M139.84,256.20v3.80M140.73,256.20v3.80M141.71,256.20v3.80M144.91,256.20v3.80M145.39,256.20v3.80M145.54,256.20v3.80M146.49,256.20v3.80M147.02,256.20v3.80M148.06,256.20v3.80M150.73,256.20v3.80M151.41,256.20v3.80M151.93,256.20v3.80M152.87,256.20v3.80M155.00,256.20v3.80M156.87,256.20v3.80M157.56,256.20v3.80M160.73,256.20v3.80M163.78,256.20v3.80M165.61,256.20v3.80M167.65,256.20v3.80M167.94,256.20v3.80M170.84,256.20v3.80M171.99,256.20v3.80M172.23,256.20v3.80M172.69,256.20v3.80M173.17,256.20v3.80M173.46,256.20v3.80M174.14,256.20v3.80M174.75,256.20v3.80M175.65,256.20v3.80M181.33,256.20v3.80M183.30,256.20v3.80M184.71,256.20v3.80M185.37,256.20v3.80M187.64,256.20v3.80M188.33,256.20v3.80M188.41,256.20v3.80M190.43,256.20v3.80M192.98,256.20v3.80M193.62,256.20v3.80M194.05,256.20v3.80M198.85,256.20v3.80M203.60,256.20v3.80M204.88,256.20v3.80M205.51,256.20v3.80M210.00,256.20v3.80M213.73,256.20v3.80M214.27,256.20v3.80M214.72,256.20v3.80M215.57,256.20v3.80M217.82,256.20v3.80M221.00,256.20v3.80M221.95,256.20v3.80M223.22,256.20v3.80M223.86,256.20v3.80M223.92,256.20v3.80M225.28,256.20v3.80M225.42,256.20v3.80M235.80,256.20v3.80M236.32,256.20v3.80M238.04,256.20v3.80M241.22,256.20v3.80M241.90,256.20v3.80M244.11,256.20v3.80M245.30,256.20v3.80" fill="none" stroke="#000" stroke-width="1.6"/>
<path d="M72.33,255.10H241.85" fill="none" stroke="#222" stroke-width="1.0" stroke-dasharray="1.0 0.9"/>
<path d="M76.97,253.20v3.80M84.22,253.20v3.80M84.43,253.20v3.80M85.62,253.20v3.80M87.94,253.20v3.80M88.67,253.20v3.80M90.03,253.20v3.80M92.74,253.20v3.80M94.86,253.20v3.80M96.31,253.20v3.80M97.52,253.20v3.80M98.87,253.20v3.80M105.95,253.20v3.80M106.22,253.20v3.80M106.86,253.20v3.80M108.83,253.20v3.80M111.75,253.20v3.80M113.00,253.20v3.80M115.23,253.20v3.80M117.07,253.20v3.80M118.49,253.20v3.80M121.66,253.20v3.80M130.54,253.20v3.80M133.62,253.20v3.80M137.07,253.20v3.80M137.38,253.20v3.80M142.19,253.20v3.80M149.84,253.20v3.80M150.85,253.20v3.80M155.82,253.20v3.80M156.88,253.20v3.80M157.32,253.20v3.80M158.34,253.20v3.80M159.37,253.20v3.80M162.56,253.20v3.80M171.01,253.20v3.80M171.45,253.20v3.80M177.94,253.20v3.80M181.60,253.20v3.80M182.92,253.20v3.80M184.79,253.20v3.80M189.72,253.20v3.80M189.91,253.20v3.80M191.74,253.20v3.80M192.19,253.20v3.80M196.25,253.20v3.80M202.19,253.20v3.80M213.34,253.20v3.80M215.52,253.20v3.80M221.34,253.20v3.80M221.82,253.20v3.80M225.26,253.20v3.80M225.37,253.20v3.80M225.57,253.20v3.80M232.77,253.20v3.80M232.77,253.20v3.80M233.44,253.20v3.80M235.51,253.20v3.80M240.44,253.20v3.80M241.70,253.20v3.80" fill="none" stroke="#000" stroke-width="1.6"/>
<path d="M72.33,255.10H72.45V268.21H238.40" fill="none" stroke="#000" stroke-width="1.4" stroke-dasharray="2.7 2.7"/>
<path d="M75.30,266.71v3.00M80.96,266.71v3.00M87.51,266.71v3.00M92.46,266.71v3.00M96.98,266.71v3.00M100.04,266.71v3.00M113.31,266.71v3.00M135.52,266.71v3.00M136.46,266.71v3.00M148.45,266.71v3.00M150.25,266.71v3.00M156.78,266.71v3.00M165.23,266.71v3.00M175.47,266.71v3.00M189.72,266.71v3.00M193.27,266.71v3.00M216.50,266.71v3.00M221.71,266.71v3.00M238.40,266.71v3.00" fill="none" stroke="#000" stroke-width="1.2"/>
<path d="M307.00,252.60H339.79V254.68H480.40" fill="none" stroke="#000" stroke-width="1.4"/>
<path d="M319.41,250.70v3.80M320.53,250.70v3.80M323.48,250.70v3.80M325.93,250.70v3.80M328.16,250.70v3.80M329.39,250.70v3.80M329.55,250.70v3.80M331.38,250.70v3.80M335.26,250.70v3.80M335.51,250.70v3.80M341.32,252.78v3.80M342.41,252.78v3.80M343.75,252.78v3.80M344.08,252.78v3.80M344.97,252.78v3.80M347.01,252.78v3.80M347.11,252.78v3.80M348.06,252.78v3.80M348.34,252.78v3.80M350.28,252.78v3.80M352.58,252.78v3.80M354.22,252.78v3.80M355.61,252.78v3.80M355.80,252.78v3.80M358.78,252.78v3.80M359.84,252.78v3.80M360.22,252.78v3.80M362.61,252.78v3.80M362.78,252.78v3.80M363.35,252.78v3.80M363.87,252.78v3.80M364.83,252.78v3.80M366.40,252.78v3.80M369.15,252.78v3.80M371.03,252.78v3.80M372.83,252.78v3.80M378.33,252.78v3.80M378.68,252.78v3.80M379.43,252.78v3.80M383.74,252.78v3.80M387.18,252.78v3.80M388.19,252.78v3.80M389.90,252.78v3.80M390.85,252.78v3.80M390.88,252.78v3.80M391.00,252.78v3.80M392.49,252.78v3.80M393.87,252.78v3.80M394.38,252.78v3.80M396.11,252.78v3.80M396.68,252.78v3.80M398.69,252.78v3.80M399.30,252.78v3.80M399.87,252.78v3.80M400.28,252.78v3.80M401.67,252.78v3.80M404.37,252.78v3.80M406.52,252.78v3.80M406.76,252.78v3.80M406.83,252.78v3.80M407.43,252.78v3.80M410.10,252.78v3.80M411.35,252.78v3.80M411.69,252.78v3.80M412.77,252.78v3.80M417.12,252.78v3.80M418.28,252.78v3.80M423.59,252.78v3.80M424.36,252.78v3.80M427.17,252.78v3.80M429.35,252.78v3.80M432.24,252.78v3.80M432.78,252.78v3.80M433.10,252.78v3.80M433.50,252.78v3.80M434.53,252.78v3.80M436.38,252.78v3.80M436.83,252.78v3.80M436.90,252.78v3.80M437.64,252.78v3.80M437.77,252.78v3.80M441.92,252.78v3.80M445.04,252.78v3.80M448.33,252.78v3.80M453.70,252.78v3.80M453.74,252.78v3.80M454.49,252.78v3.80M454.93,252.78v3.80M455.45,252.78v3.80M458.24,252.78v3.80M467.18,252.78v3.80M468.03,252.78v3.80M468.46,252.78v3.80M469.75,252.78v3.80M472.91,252.78v3.80M474.20,252.78v3.80M474.60,252.78v3.80M475.83,252.78v3.80M477.07,252.78v3.80M478.59,252.78v3.80M480.40,252.78v3.80" fill="none" stroke="#000" stroke-width="1.6"/>
<path d="M313.95,252.60H474.89" fill="none" stroke="#000" stroke-width="1.4" stroke-dasharray="2.7 2.7"/>
<path d="M317.92,250.70v3.80M320.32,250.70v3.80M322.20,250.70v3.80M325.02,250.70v3.80M329.98,250.70v3.80M330.53,250.70v3.80M340.63,250.70v3.80M344.95,250.70v3.80M345.84,250.70v3.80M354.08,250.70v3.80M363.88,250.70v3.80M385.73,250.70v3.80M387.62,250.70v3.80M388.41,250.70v3.80M389.46,250.70v3.80M389.74,250.70v3.80M395.17,250.70v3.80M396.46,250.70v3.80M397.11,250.70v3.80M398.26,250.70v3.80M399.73,250.70v3.80M404.74,250.70v3.80M409.14,250.70v3.80M413.63,250.70v3.80M415.91,250.70v3.80M417.57,250.70v3.80M419.74,250.70v3.80M421.10,250.70v3.80M426.04,250.70v3.80M441.90,250.70v3.80M444.56,250.70v3.80M449.78,250.70v3.80M462.81,250.70v3.80M469.28,250.70v3.80M472.06,250.70v3.80" fill="none" stroke="#000" stroke-width="1.6"/>
<path d="M313.95,252.60H313.96V272.44H450.37" fill="none" stroke="#222" stroke-width="1.0" stroke-dasharray="1.5 1.35"/>
<path d="M315.53,270.84v3.20M333.89,270.84v3.20M367.99,270.84v3.20M377.17,270.84v3.20M443.41,270.84v3.20M448.14,270.84v3.20" fill="none" stroke="#000" stroke-width="1.2"/>
</g></svg></body></html>
